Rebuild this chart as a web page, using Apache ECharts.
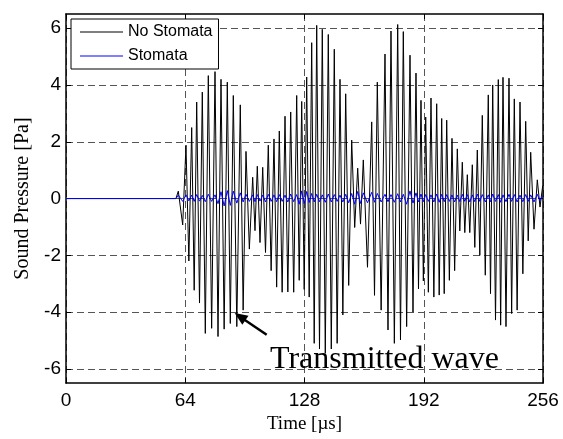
<!DOCTYPE html>
<html><head><meta charset="utf-8">
<script src="https://cdn.jsdelivr.net/npm/echarts@6/dist/echarts.min.js"></script>
<style>html,body{margin:0;padding:0;background:#fff}#c{width:563px;height:439px}</style>
</head><body><div id="c"></div>
<script>
const xTicks=[0,64,128,192,256];
const yTicks=[-6,-4,-2,0,2,4,6];
const seriesNames=['No Stomata','Stomata'];
// black (No Stomata): onset points, then carrier peaks & troughs (µs, Pa)
const leadT=[0,59.0,60.27,62.63];
const leadV=[0,0,0.26,-0.93];
const peakT=[64.40,67.46,70.14,73.15,76.37,79.97,83.19,86.57,89.79,93.54,
96.60,100.20,102.67,105.57,108.57,111.63,114.48,117.54,120.59,123.81,
126.50,129.18,131.86,134.55,137.55,140.77,143.99,147.05,150.11,153.33,
156.55,159.56,164.07,167.07,171.20,174.42,178.02,181.03,184.62,187.84,
190.52,193.05,195.89,198.95,201.63,204.32,207.16,210.01,212.69,215.38,
218.06,220.74,223.42,226.64,229.01,232.01,234.53,237.75,240.60,243.66,
246.71,249.40,252.94,255.84];
const peakV=[1.88,2.5,3.4,3.75,4.33,4.47,4.2,4.1,3.63,3.3,
1.66,0.75,1.14,1.1,1.88,2.1,2.38,2.9,3.05,3.63,
3.42,4.28,5.49,6.1,5.96,5.78,5.26,4.2,3.69,2.06,
1.07,1.36,2.7,4.1,5.09,5.9,6.13,5.88,5.05,4.42,
3.46,2.87,3.54,3.34,2.82,2.76,2.12,1.75,1.28,0.84,
1.19,1.71,2.93,3.65,4.0,4.19,4.27,4.24,3.51,3.4,
2.72,1.63,0.66,0.45];
const troughT=[65.93,68.80,71.65,74.76,78.17,81.58,84.88,88.18,91.67,95.07,
98.40,101.43,104.12,107.07,110.10,113.05,116.00,119.06,122.20,125.16,
127.84,130.52,133.21,136.05,139.16,142.38,145.52,148.58,151.72,154.94,
158.06,161.81,165.57,169.14,172.81,176.22,179.52,182.82,186.23,189.18,
191.79,194.47,197.42,200.29,202.98,205.74,208.58,211.35,214.03,216.71,
219.40,222.08,225.03,227.83,230.51,233.27,236.14,239.17,242.12,245.19,
248.06,251.17,254.39];
const troughV=[-2.2,-3.23,-3.68,-4.75,-4.57,-4.86,-4.6,-4.4,-4.51,-3.93,
-1.78,-1.13,-1.55,-1.9,-2.54,-3.12,-3.3,-3.29,-3.3,-2.88,
-3.2,-3.47,-5.1,-5.3,-5.45,-5.3,-5.1,-4.1,-3.06,-1.02,
-0.9,-2.42,-3.41,-3.93,-4.63,-5.1,-4.98,-4.51,-4.0,-3.18,
-2.9,-3.3,-3.47,-3.4,-3.35,-2.88,-2.54,-1.14,-1.2,-1.2,
-1.72,-2.0,-2.7,-3.35,-4.28,-4.46,-4.51,-4.05,-3.93,-2.65,
-1.49,-1.08,-0.3];
// blue (Stomata)
const blueLeadT=[0,41.5,42.4,43.3,49.0,49.9,50.8,59.0,60.27,62.63];
const blueLeadV=[0,0,0.05,0,0,0.05,0,0,0.12,-0.1];
const bluePkV=[0.13,0.12,0.14,0.11,0.15,0.13,0.24,0.28,0.26,0.2,
0.15,0.13,0.14,0.12,0.15,0.13,0.14,0.12,0.16,0.14,
0.27,0.25,0.18,0.15,0.13,0.16,0.14,0.12,0.15,0.18,
0.25,0.2,0.22,0.18,0.15,0.14,0.17,0.15,0.27,0.2,
0.16,0.14,0.13,0.16,0.15,0.14,0.13,0.12,0.15,0.14,
0.13,0.16,0.14,0.13,0.16,0.14,0.13,0.15,0.14,0.12,
0.14,0.13,0.15,0.1];
const blueTrV=[-0.08,-0.1,-0.09,-0.11,-0.1,-0.18,-0.26,-0.24,-0.16,-0.12,
-0.1,-0.11,-0.09,-0.12,-0.1,-0.11,-0.1,-0.12,-0.11,-0.2,
-0.18,-0.14,-0.12,-0.11,-0.13,-0.12,-0.1,-0.12,-0.15,-0.2,
-0.17,-0.15,-0.13,-0.12,-0.11,-0.13,-0.12,-0.2,-0.16,-0.12,
-0.11,-0.1,-0.12,-0.13,-0.11,-0.1,-0.12,-0.11,-0.1,-0.12,
-0.11,-0.1,-0.12,-0.11,-0.1,-0.13,-0.11,-0.1,-0.12,-0.11,
-0.1,-0.12,-0.08];
// annotation
const arrowFrom=[107.7,-4.8];
const arrowTo=[93.4,-4.16];
const annotationText='Transmitted wave';

function build(lt,lv,pt,pv,tt,tv){
  const pts=[];
  lt.forEach((t,i)=>pts.push([t,lv[i]]));
  pt.forEach((t,i)=>pts.push([t,pv[i]]));
  tt.forEach((t,i)=>pts.push([t,tv[i]]));
  pts.sort((a,b)=>a[0]-b[0]);
  return pts;
}
const blackData=build(leadT,leadV,peakT,peakV,troughT,troughV);
const blueData=build(blueLeadT,blueLeadV,peakT,bluePkV,troughT,blueTrV);

const chart=echarts.init(document.getElementById('c'),null,{renderer:'canvas'});
const frame={onZero:false,lineStyle:{color:'#000',width:1.5}};
const grid={type:[7,4],color:'#555',width:1};
chart.setOption({
  animation:false,
  backgroundColor:'#fff',
  grid:{left:66,right:20,top:14,bottom:52,containLabel:false},
  legend:{
    left:71,top:19,orient:'vertical',
    data:seriesNames,
    icon:'rect',
    itemWidth:43,itemHeight:1,itemGap:6,
    padding:[4,6,4,9],
    borderColor:'#000',borderWidth:1,backgroundColor:'#fff',
    textStyle:{fontFamily:'Liberation Sans',fontSize:16,color:'#000',lineHeight:18}
  },
  xAxis:[{
    type:'value',min:xTicks[0],max:xTicks[xTicks.length-1],interval:64,position:'bottom',
    axisLine:frame,
    axisTick:{inside:true,length:5,lineStyle:{color:'#000'}},
    axisLabel:{fontFamily:'Liberation Sans',fontSize:19,color:'#000',margin:8},
    splitLine:{show:true,lineStyle:grid},
    name:'Time [µs]',nameLocation:'middle',nameGap:31,
    nameTextStyle:{fontFamily:'Liberation Serif',fontSize:19,color:'#000'}
  },{
    type:'value',min:xTicks[0],max:xTicks[xTicks.length-1],interval:64,position:'top',
    axisLine:frame,
    axisTick:{inside:true,length:5,lineStyle:{color:'#000'}},
    axisLabel:{show:false},splitLine:{show:false}
  }],
  yAxis:[{
    type:'value',min:-6.5,max:6.5,position:'left',
    axisLine:frame,
    axisTick:{inside:true,length:5,lineStyle:{color:'#000'},customValues:yTicks},
    axisLabel:{fontFamily:'Liberation Sans',fontSize:19,color:'#000',margin:5,customValues:yTicks},
    splitLine:{show:true,lineStyle:grid},
    name:'Sound Pressure [Pa]',nameLocation:'middle',nameGap:26,
    nameTextStyle:{fontFamily:'Liberation Serif',fontSize:20,color:'#000'}
  },{
    type:'value',min:-6.5,max:6.5,position:'right',
    axisLine:frame,
    axisTick:{inside:true,length:5,lineStyle:{color:'#000'},customValues:yTicks},
    axisLabel:{show:false},splitLine:{show:false}
  }],
  series:[{
    name:seriesNames[0],type:'line',data:blackData,symbol:'none',
    lineStyle:{color:'#000',width:1},itemStyle:{color:'#000'},
    markLine:{silent:true,symbol:['none','triangle'],symbolSize:[11,13],
      label:{show:false},
      lineStyle:{color:'#000',width:2.5,type:'solid'},
      data:[[{coord:arrowFrom},{coord:arrowTo}]]}
  },{
    name:seriesNames[1],type:'line',data:blueData,symbol:'none',
    lineStyle:{color:'#0000ff',width:1},itemStyle:{color:'#0000ff'}
  }],
  graphic:[{type:'text',left:270,top:344,z:100,
    style:{text:annotationText,font:'32px "Liberation Serif"',fill:'#000'}}]
});
</script></body></html>
